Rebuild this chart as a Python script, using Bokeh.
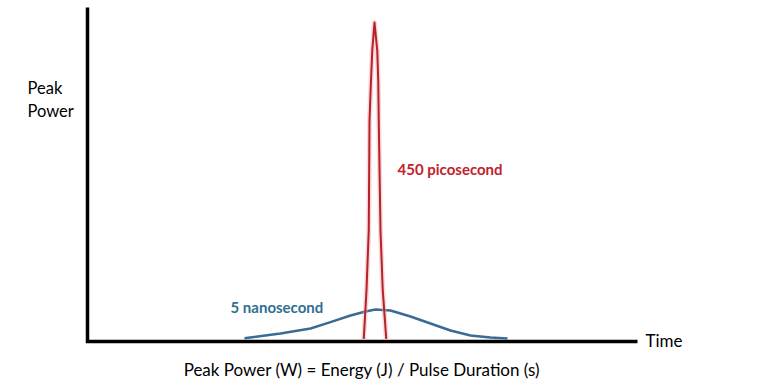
from bokeh.plotting import figure
from bokeh.models import Range1d, Label
from bokeh.embed import file_html
from bokeh.resources import INLINE

# Time in ns (arbitrary scale), peak power in arbitrary units (0-100)
ns_time = [6.28, 7.72, 8.92, 9.72, 10.52, 11.12, 11.52, 12.12, 12.92, 13.72, 14.52, 15.32, 16.12, 16.80]
ns_power = [1.0, 2.4, 3.9, 5.8, 7.8, 9.0, 9.6, 9.3, 7.5, 5.4, 3.3, 1.8, 1.2, 0.9]

ps_time = [11.05, 11.16, 11.25, 11.28, 11.34, 11.39, 11.48, 11.59, 11.63, 11.65, 11.72, 11.81, 11.95]
ps_power = [0.8, 15.3, 33.2, 66.2, 78.1, 87.1, 95.5, 87.1, 78.1, 66.2, 33.2, 15.3, 0.8]

# axis extents (time axis 0..22 ns, power axis 0..100)
time_axis = [0, 22]
power_axis = [0, 100]

ns_label = "5 nanosecond"
ps_label = "450 picosecond"
x_label = "Time"
y_label = ["Peak", "Power"]
caption = "Peak Power (W) = Energy (J) / Pulse Duration (s)"

FONT = "Lato"
DY = 1.95  # baseline correction

p = figure(width=780, height=383, output_backend="svg", toolbar_location=None,
           x_range=Range1d(-3.48, 27.72), y_range=Range1d(-12.57, 102.10),
           x_axis_type=None, y_axis_type=None, min_border=0)
p.outline_line_color = None
p.background_fill_color = "white"
p.border_fill_color = "white"
p.xgrid.visible = False
p.ygrid.visible = False

# axes drawn as an L from the axis extents
p.line([time_axis[0], time_axis[0], time_axis[1]], [power_axis[1], power_axis[0], power_axis[0]],
       line_color="black", line_width=3.5, line_join="miter", line_cap="butt")

# blue 5 ns pulse
p.line(ns_time, ns_power, line_color="#3a6b94", line_width=2.5, line_join="round")

# red 450 ps pulse with a soft glow
p.line(ps_time, ps_power, line_color="#f2a9ad", line_width=5, line_alpha=0.45, line_join="round")
p.line(ps_time, ps_power, line_color="#b5222b", line_width=2, line_join="round")

p.add_layout(Label(x=5.72, y=8.3 + DY, text=ns_label, text_font=FONT, text_font_style="bold",
                   text_font_size="15px", text_color="#2f6f91", text_baseline="alphabetic"))
p.add_layout(Label(x=12.4, y=49.7 + DY, text=ps_label, text_font=FONT, text_font_style="bold",
                   text_font_size="15px", text_color="#c0232c", text_baseline="alphabetic"))
p.add_layout(Label(x=22.32, y=-1.5 + DY, text=x_label, text_font=FONT,
                   text_font_size="17px", text_color="black", text_baseline="alphabetic"))
p.add_layout(Label(x=-2.4, y=73.9 + DY, text=y_label[0], text_font=FONT,
                   text_font_size="16.5px", text_color="black", text_baseline="alphabetic"))
p.add_layout(Label(x=-2.4, y=67.2 + DY, text=y_label[1], text_font=FONT,
                   text_font_size="16.5px", text_color="black", text_baseline="alphabetic"))
p.add_layout(Label(x=10.98, y=-10.2 + DY, text=caption, text_font=FONT, text_align="center",
                   text_font_size="17px", text_color="black", text_baseline="alphabetic"))

open("out.html", "w").write(file_html(p, INLINE))
